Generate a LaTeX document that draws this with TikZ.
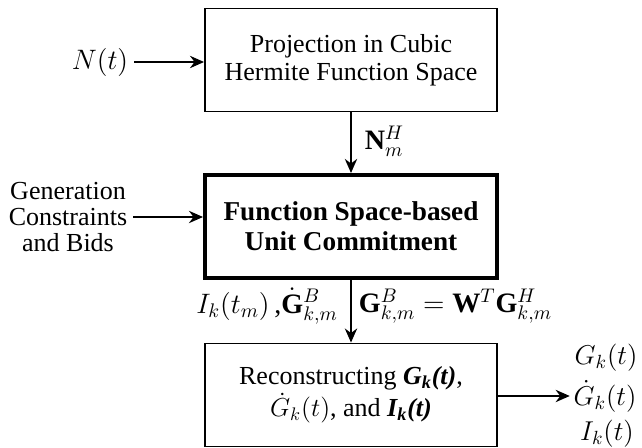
\RequirePackage{fix-cm}
\documentclass[tikz,border=0pt]{standalone}
\usepackage{fontspec}
\setmainfont{Liberation Serif}
\usetikzlibrary{arrows.meta}

\tikzset{
    block/.style={draw, line width=1.1pt, minimum width=5.84cm, minimum height=2.06cm,
        align=center, inner sep=2pt, font=\fontsize{14.8}{16}\selectfont},
    mainblock/.style={block, line width=2.3pt, font=\fontsize{15.5}{17}\selectfont\bfseries},
    flow/.style={-{Stealth[length=8pt, width=7pt]}, line width=1.1pt},
    lbl/.style={font=\fontsize{16}{17}\selectfont},
    outlbl/.style={font=\fontsize{15.5}{16}\selectfont, inner sep=0pt}
}

\begin{document}
\begin{tikzpicture}[x=0.02cm, y=-0.02cm]

    \useasboundingbox (0,0) rectangle (642,448);

    % the three processing steps
    \node[block] (proj) at (351,60) {Projection in Cubic\\Hermite Function Space};
    \node[mainblock] (fsuc) at (351,226.5) {Function Space-based\\Unit Commitment};
    \node[block, font=\fontsize{14.8}{18}\selectfont] (recon) at (351,395)
        {Reconstructing \textbf{\textit{G\textsubscript{k}(t)}},\\
         $\dot{G}_k(t)$, and \textbf{\textit{I\textsubscript{k}(t)}}};

    % inputs
    \node[lbl] (nt) at (100,62) {$N(t)$};
    \node[align=center, font=\fontsize{14.8}{15}\selectfont] (gen) at (68,217)
        {Generation\\Constraints\\and Bids};

    % outputs
    \node[outlbl] (gk) at (606,358) {$G_k(t)$};
    \node[outlbl] (gkdot) at (605,396) {$\dot{G}_k(t)$};
    \node[outlbl] (ik) at (607,434) {$I_k(t)$};

    \draw[flow] (nt.east) -- (nt.east -| proj.west);
    \draw[flow] (gen.east) -- (gen.east -| fsuc.west);

    \draw[flow] (proj) -- node[lbl, right, xshift=4pt, yshift=1pt] {$\mathbf{N}_m^H$} (fsuc);
    \draw[flow] (fsuc) --
        node[lbl, left, inner sep=1pt, xshift=-6pt, yshift=3pt] {$I_k(t_m)$\,,$\dot{\mathbf{G}}^B_{k,m}$}
        node[lbl, right, inner sep=1pt, xshift=3pt, yshift=3pt] {$\mathbf{G}^B_{k,m} = \mathbf{W}^T\mathbf{G}^H_{k,m}$} (recon);

    \draw[flow] (recon.east |- gkdot.west) -- ([xshift=-2pt]gkdot.west);

\end{tikzpicture}
\end{document}
